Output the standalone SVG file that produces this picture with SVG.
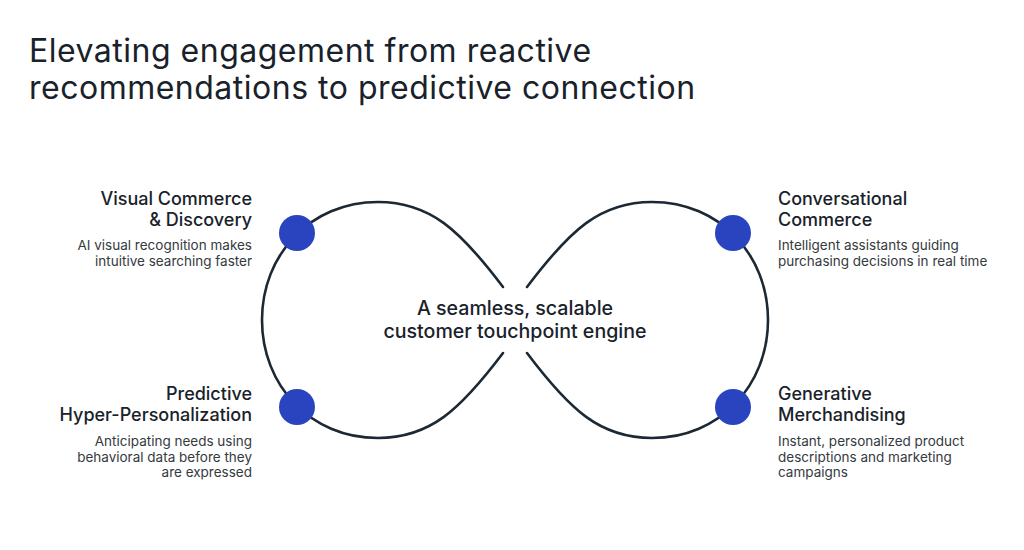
<svg xmlns="http://www.w3.org/2000/svg" width="1024" height="550" viewBox="0 0 1024 550">
<style>
.title{font-family:Inter,"Noto Sans",sans-serif;font-size:32px;letter-spacing:0.5px;fill:#19222a;}
.head{font-family:Inter,"Noto Sans",sans-serif;font-size:18px;font-weight:500;fill:#19222a;}
.desc{font-family:Inter,"Noto Sans",sans-serif;font-size:13.5px;fill:#343a40;}
.center{font-family:Inter,"Noto Sans",sans-serif;font-size:19.6px;font-weight:500;fill:#19222a;text-anchor:middle;}
.loop{fill:none;stroke:#1c2833;stroke-width:2.6;stroke-linecap:round;}
.dot{fill:#2a44bf;}
.r{text-anchor:end;}
</style>
<rect width="1024" height="550" fill="#ffffff"/>
<g id="title">
<text class="title" x="29" y="62">Elevating engagement from reactive</text>
<text class="title" x="29" y="99">recommendations to predictive connection</text>
</g>
<g id="connectors">
<path class="loop" d="M503,287 C460,230 430,202 378,202 C310,202 262,255 262,320 C262,385 310,438 378,438 C430,438 460,410 503,353"/>
<path class="loop" d="M527,287 C570,230 600,202 652,202 C720,202 768,255 768,320 C768,385 720,438 652,438 C600,438 570,410 527,353"/>
</g>
<g id="center">
<text class="center" x="515" y="315">A seamless, scalable</text>
<text class="center" x="515" y="338">customer touchpoint engine</text>
</g>
<g id="visual-commerce">
<circle class="dot" cx="297" cy="233" r="18"/>
<text class="head r" x="252" y="205">Visual Commerce</text>
<text class="head r" x="252" y="226">&amp; Discovery</text>
<text class="desc r" x="252" y="250">AI visual recognition makes</text>
<text class="desc r" x="252" y="266">intuitive searching faster</text>
</g>
<g id="predictive-personalization">
<circle class="dot" cx="297" cy="407" r="18"/>
<text class="head r" x="252" y="400">Predictive</text>
<text class="head r" x="252" y="421">Hyper-Personalization</text>
<text class="desc r" x="252" y="446">Anticipating needs using</text>
<text class="desc r" x="252" y="462">behavioral data before they</text>
<text class="desc r" x="252" y="477">are expressed</text>
</g>
<g id="conversational-commerce">
<circle class="dot" cx="733" cy="233" r="18"/>
<text class="head" x="778" y="205">Conversational</text>
<text class="head" x="778" y="226">Commerce</text>
<text class="desc" x="778" y="250">Intelligent assistants guiding</text>
<text class="desc" x="778" y="266">purchasing decisions in real time</text>
</g>
<g id="generative-merchandising">
<circle class="dot" cx="733" cy="407" r="18"/>
<text class="head" x="778" y="400">Generative</text>
<text class="head" x="778" y="421">Merchandising</text>
<text class="desc" x="778" y="446">Instant, personalized product</text>
<text class="desc" x="778" y="462">descriptions and marketing</text>
<text class="desc" x="778" y="477">campaigns</text>
</g>
</svg>
